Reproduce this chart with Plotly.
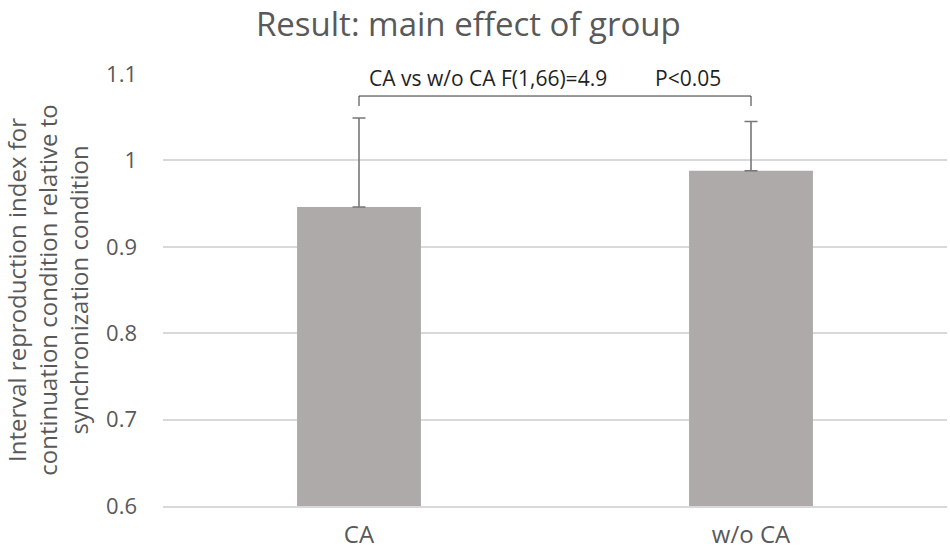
import plotly.graph_objects as go

categories = ["CA", "w/o CA"]
means = [0.946, 0.988]
errors = [0.103, 0.057]
y_ticks = [0.6, 0.7, 0.8, 0.9, 1.0, 1.1]
y_tick_labels = ["0.6", "0.7", "0.8", "0.9", "1", "1.1"]
title_text = "Result: main effect of group"
y_title = "Interval reproduction index for<br>continuation condition relative to<br>synchronization condition"
stat_text = "CA vs w/o CA F(1,66)=4.9"
p_text = "P<0.05"
bracket_top = 1.0745
bracket_end = 1.063
text_y = 1.0954

FONT = "Open Sans"
GREY = "#595959"

fig = go.Figure()
fig.add_trace(go.Bar(
    x=categories, y=means,
    marker=dict(color="#ADAAA9", line=dict(width=0)),
    error_y=dict(type="data", array=errors, arrayminus=[0, 0], symmetric=False,
                 color="#777777", thickness=1.6, width=6.5),
))

# significance bracket
fig.add_shape(type="path", xref="x", yref="y",
              path=f"M 0,{bracket_end} L 0,{bracket_top} L 1,{bracket_top} L 1,{bracket_end}",
              line=dict(color="#333333", width=1))

fig.add_annotation(x=0.02, y=text_y, xref="x", yref="y", text=stat_text, showarrow=False,
                   xanchor="left", yanchor="middle", font=dict(family=FONT, size=21, color="#1F1F1F"))
fig.add_annotation(x=0.75, y=text_y, xref="x", yref="y", text=p_text, showarrow=False,
                   xanchor="left", yanchor="middle", font=dict(family=FONT, size=21, color="#1F1F1F"))

fig.update_layout(
    width=950, height=550,
    margin=dict(l=163, r=3, t=74, b=44),
    paper_bgcolor="white", plot_bgcolor="white",
    bargap=0.684,
    showlegend=False,
    title=dict(text=title_text, x=0.493, xanchor="center", y=0.955, yanchor="middle",
               font=dict(family=FONT, size=33, color=GREY)),
    font=dict(family=FONT, color=GREY),
)
fig.update_yaxes(range=[0.6, 1.1], tickvals=y_ticks, ticktext=y_tick_labels,
                 automargin=False,
                 showgrid=True, gridcolor="#D9D9D9", gridwidth=1.5,
                 zeroline=False, showline=False, ticks="",
                 tickfont=dict(family=FONT, size=22, color=GREY),
                 ticklabelstandoff=25,
                 title=dict(text=y_title, font=dict(family=FONT, size=24, color=GREY), standoff=11))
fig.update_xaxes(automargin=False,
                 showgrid=False, showline=True, linecolor="#D9D9D9", linewidth=1.5, ticks="",
                 tickfont=dict(family=FONT, size=24, color=GREY), ticklabelstandoff=6)

fig.write_html("out.html", config={"displayModeBar": False},
               post_script="document.body.style.margin='0';")
